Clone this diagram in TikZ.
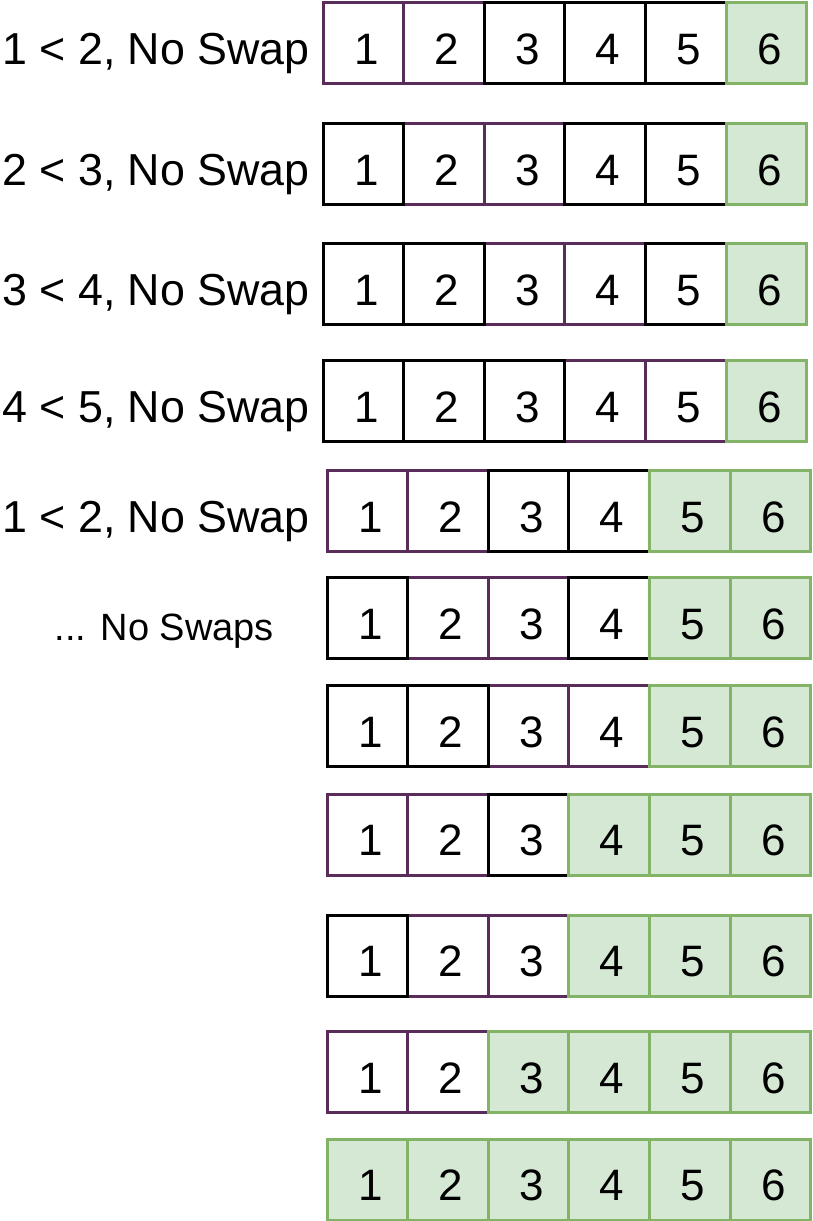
\documentclass[tikz,border=0pt]{standalone}
\usepackage{fontspec}
\setmainfont{Liberation Sans}
\definecolor{purpleB}{RGB}{90,44,90}
\definecolor{greenB}{RGB}{130,179,102}
\definecolor{greenF}{RGB}{213,232,212}
\newcommand\DigFont{\fontsize{44}{48}\selectfont}
\newcommand\LabFont{\fontsize{44.8}{48}\selectfont}
\newcommand\SmallLabFont{\fontsize{38}{42}\selectfont}
\tikzset{
  cell/.style={minimum width=80.6pt, minimum height=81pt, inner sep=0pt,
    text height=42pt, text depth=0pt, font=\DigFont, fill=white},
  cellP/.style={cell, draw=purpleB, line width=3pt},
  cellK/.style={cell, draw=black, line width=3pt},
  cellG/.style={cell, draw=greenB, fill=greenF, line width=3pt},
  rowlabel/.style={inner sep=0pt, anchor=base east, font=\LabFont},
}
\newcommand\BoxRow[4]{%
  \foreach \kind in {P,K,G}{%
    \foreach \i/\t in {#4}{%
      \ifx\t\kind
        \node[cell\t] (r#1c\i) at ({#2+(\i-0.5)*80.6},#3) {\hspace*{6pt}\i};
      \fi
    }%
  }%
}
\begin{document}
\begin{tikzpicture}[x=1pt,y=-1pt]
\useasboundingbox (0,0) rectangle (813,1221);
\BoxRow{1}{323}{43}{1/P,2/P,3/K,4/K,5/K,6/G}
\BoxRow{2}{323}{164}{1/K,2/P,3/P,4/K,5/K,6/G}
\BoxRow{3}{323}{284}{1/K,2/K,3/P,4/P,5/K,6/G}
\BoxRow{4}{323}{401}{1/K,2/K,3/K,4/P,5/P,6/G}
\BoxRow{5}{327}{511}{1/P,2/P,3/K,4/K,5/G,6/G}
\BoxRow{6}{327}{618}{1/K,2/P,3/P,4/K,5/G,6/G}
\BoxRow{7}{327}{726}{1/K,2/K,3/P,4/P,5/G,6/G}
\BoxRow{8}{327}{834.5}{1/P,2/P,3/K,4/G,5/G,6/G}
\BoxRow{9}{327}{955.5}{1/K,2/P,3/P,4/G,5/G,6/G}
\BoxRow{10}{327}{1072}{1/P,2/P,3/G,4/G,5/G,6/G}
\BoxRow{11}{327}{1179.5}{1/G,2/G,3/G,4/G,5/G,6/G}
\node[rowlabel] (l1) at (310,64) {1 < 2, No Swap};
\node[rowlabel] (l2) at (310,185) {2 < 3, No Swap};
\node[rowlabel] (l3) at (310,305) {3 < 4, No Swap};
\node[rowlabel] (l4) at (310,422) {4 < 5, No Swap};
\node[rowlabel] (l5) at (310,532) {1 < 2, No Swap};
\node[rowlabel, font=\SmallLabFont] (l6) at (274,640) {... No Swaps};
\end{tikzpicture}
\end{document}
